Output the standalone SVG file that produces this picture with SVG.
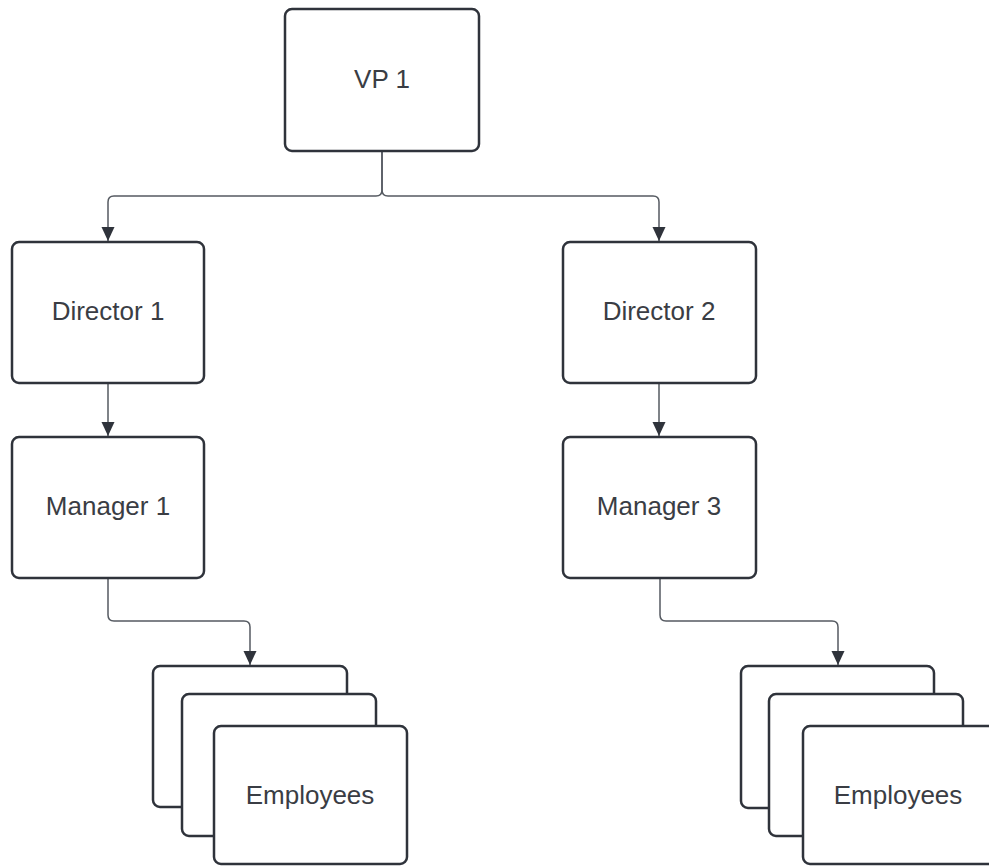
<svg xmlns="http://www.w3.org/2000/svg" width="989" height="866" viewBox="0 0 989 866">
<defs>
<marker id="arr" markerWidth="14" markerHeight="16" refX="14" refY="6.5" orient="auto" markerUnits="userSpaceOnUse">
<path d="M0,0 L14,6.5 L0,13 Z" fill="#2f333b"/>
</marker>
<style>
.box{fill:#ffffff;stroke:#2f333b;stroke-width:2.5}
.lbl{font-family:"Liberation Sans",Arial,sans-serif;font-size:26px;fill:#3a3d44;text-anchor:middle}
.con{fill:none;stroke:#555a61;stroke-width:1.5}
</style>
</defs>
<rect width="989" height="866" fill="#ffffff"/>
<g id="connectors">
<path class="con" d="M382,151 V190 Q382,196 376,196 H114 Q108,196 108,202 V241" marker-end="url(#arr)"/>
<path class="con" d="M382,151 V190 Q382,196 388,196 H653 Q659,196 659,202 V241" marker-end="url(#arr)"/>
<path class="con" d="M108,383 V436" marker-end="url(#arr)"/>
<path class="con" d="M659,383 V436" marker-end="url(#arr)"/>
<path class="con" d="M108,578 V615 Q108,621 114,621 H244 Q250,621 250,627 V665" marker-end="url(#arr)"/>
<path class="con" d="M660,578 V615 Q660,621 666,621 H832 Q838,621 838,627 V665" marker-end="url(#arr)"/>
</g>
<g id="vp1">
<rect class="box" x="285" y="9" width="194" height="142" rx="7"/>
<text class="lbl" x="382" y="88">VP 1</text>
</g>
<g id="director1">
<rect class="box" x="12" y="242" width="192" height="141" rx="7"/>
<text class="lbl" x="108" y="320">Director 1</text>
</g>
<g id="director2">
<rect class="box" x="563" y="242" width="193" height="141" rx="7"/>
<text class="lbl" x="659" y="320">Director 2</text>
</g>
<g id="manager1">
<rect class="box" x="12" y="437" width="192" height="141" rx="7"/>
<text class="lbl" x="108" y="515">Manager 1</text>
</g>
<g id="manager3">
<rect class="box" x="563" y="437" width="193" height="141" rx="7"/>
<text class="lbl" x="659" y="515">Manager 3</text>
</g>
<g id="employees1">
<rect class="box" x="153" y="666" width="194" height="141" rx="7"/>
<rect class="box" x="182" y="694" width="194" height="142" rx="7"/>
<rect class="box" x="214" y="726" width="193" height="138" rx="7"/>
<text class="lbl" x="310" y="804">Employees</text>
</g>
<g id="employees2">
<rect class="box" x="741" y="666" width="193" height="142" rx="7"/>
<rect class="box" x="769" y="694" width="194" height="142" rx="7"/>
<rect class="box" x="803" y="726" width="194" height="138" rx="7"/>
<text class="lbl" x="898" y="804">Employees</text>
</g>
</svg>
